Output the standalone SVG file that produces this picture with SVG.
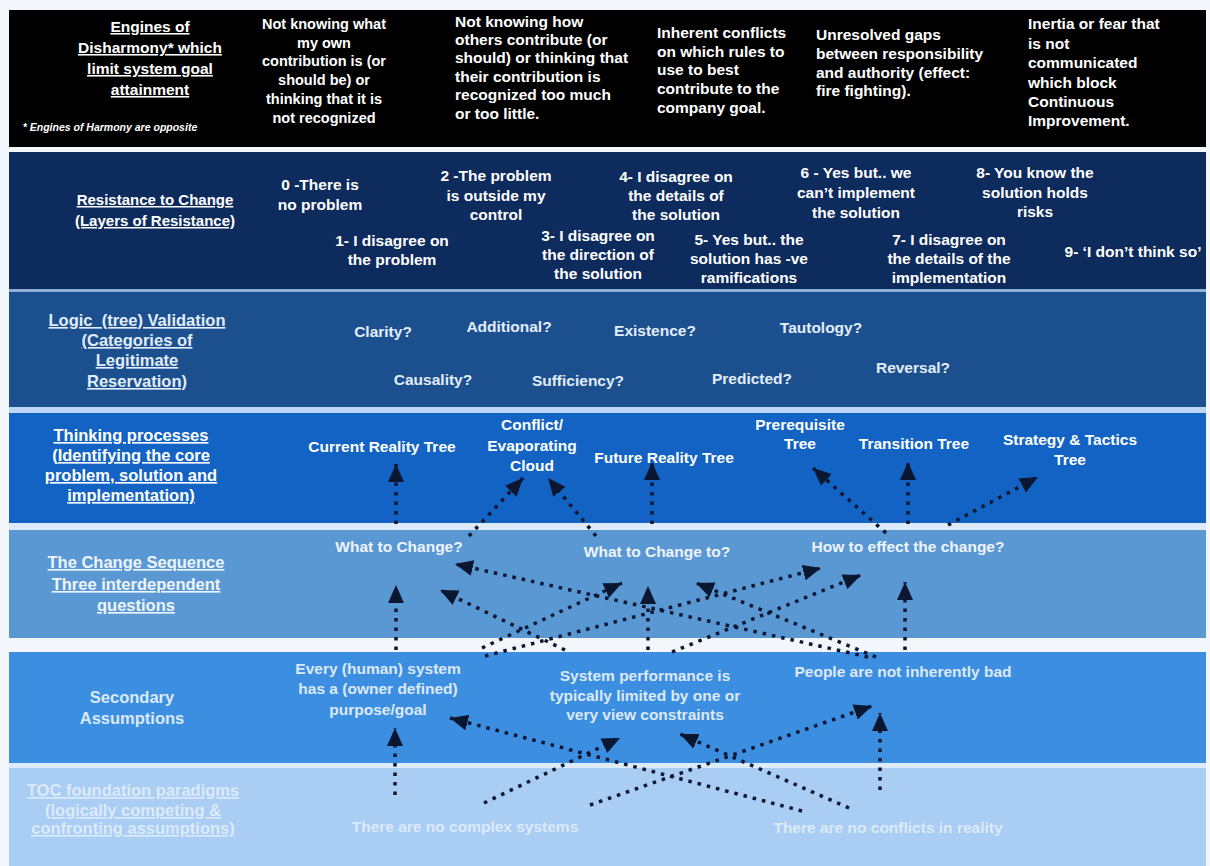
<svg xmlns="http://www.w3.org/2000/svg" width="1210" height="866" viewBox="0 0 1210 866">
<defs>
<style>
text{font-family:"Liberation Sans",Arial,Helvetica,sans-serif;font-weight:bold;font-size:15.5px;fill:#ffffff}
.c{text-anchor:middle}
.t{font-size:16.5px;text-decoration:underline}
.t1{font-size:15.5px;text-decoration:underline}
.t2{font-size:15px;text-decoration:underline}
.s13{font-size:14.5px}
.fn{font-size:10.5px;font-style:italic}
.l3{fill:#e2edfb}
.l5{fill:#eef4fc}
.l6{fill:#dce9f9}
.l7{fill:#dcebfb}
.dl{fill:none;stroke:#0b1631;stroke-width:3.5;stroke-dasharray:3.5 6;marker-end:url(#ah)}
</style>
<marker id="ah" viewBox="0 0 18 16" refX="18" refY="8" markerWidth="18" markerHeight="16" markerUnits="userSpaceOnUse" orient="auto">
<path d="M0,0 L18,8 L0,16 z" fill="#0b1631"/>
</marker>
</defs>
<rect x="0" y="0" width="1210" height="866" fill="#f3f6fa"/>
<g id="bands">
<rect x="9" y="10" width="1197" height="137" fill="#000000"/>
<rect x="9" y="289" width="1197" height="3" fill="#8fb0d8"/>
<rect x="9" y="152" width="1197" height="137" fill="#0e2b5d"/>
<rect x="9" y="407" width="1197" height="6" fill="#bcd6f3"/>
<rect x="9" y="292" width="1197" height="115" fill="#1b4f8d"/>
<rect x="9" y="413" width="1197" height="110" fill="#1263c4"/>
<rect x="9" y="523" width="1197" height="7" fill="#dfeaf8"/>
<rect x="9" y="530" width="1197" height="108" fill="#5a98d4"/>
<rect x="9" y="652" width="1197" height="111" fill="#3c8ee1"/>
<rect x="9" y="763" width="1197" height="5" fill="#dcecfc"/>
<rect x="9" y="768" width="1197" height="98" fill="#a9cdf3"/>
</g>
<g id="engines">
<text class="c t1" x="150" y="32">Engines of</text>
<text class="c t1" x="150" y="53">Disharmony* which</text>
<text class="c t1" x="150" y="74">limit system goal</text>
<text class="c t1" x="150" y="95">attainment</text>
<text class="c fn" x="110" y="131">* Engines of Harmony are opposite</text>
</g>
<g id="eng1">
<text class="c s13" x="324" y="29">Not knowing what</text>
<text class="c s13" x="324" y="48">my own</text>
<text class="c s13" x="324" y="66">contribution is (or</text>
<text class="c s13" x="324" y="85">should be) or</text>
<text class="c s13" x="324" y="104">thinking that it is</text>
<text class="c s13" x="324" y="123">not recognized</text>
</g>
<g id="eng2">
<text x="455" y="27">Not knowing how</text>
<text x="455" y="45">others contribute (or</text>
<text x="455" y="63">should) or thinking that</text>
<text x="455" y="82">their contribution is</text>
<text x="455" y="100">recognized too much</text>
<text x="455" y="119">or too little.</text>
</g>
<g id="eng3">
<text x="657" y="38">Inherent conflicts</text>
<text x="657" y="57">on which rules to</text>
<text x="657" y="75">use to best</text>
<text x="657" y="94">contribute to the</text>
<text x="657" y="113">company goal.</text>
</g>
<g id="eng4">
<text x="816" y="40">Unresolved gaps</text>
<text x="816" y="59">between responsibility</text>
<text x="816" y="78">and authority (effect:</text>
<text x="816" y="96">fire fighting).</text>
</g>
<g id="eng5">
<text x="1028" y="29">Inertia or fear that</text>
<text x="1028" y="49">is not</text>
<text x="1028" y="68">communicated</text>
<text x="1028" y="88">which block</text>
<text x="1028" y="107">Continuous</text>
<text x="1028" y="126">Improvement.</text>
</g>
<g id="resistance">
<text class="c t2" x="155" y="205">Resistance to Change</text>
<text class="c t2" x="155" y="226">(Layers of Resistance)</text>
</g>
<g id="r0"><text class="c" x="320" y="190">0 -There is</text><text class="c" x="320" y="210">no problem</text></g>
<g id="r1"><text class="c" x="392" y="246">1- I disagree on</text><text class="c" x="392" y="265">the problem</text></g>
<g id="r2"><text class="c" x="496" y="181">2 -The problem</text><text class="c" x="496" y="201">is outside my</text><text class="c" x="496" y="220">control</text></g>
<g id="r3"><text class="c" x="598" y="241">3- I disagree on</text><text class="c" x="598" y="260">the direction of</text><text class="c" x="598" y="279">the solution</text></g>
<g id="r4"><text class="c" x="676" y="182">4- I disagree on</text><text class="c" x="676" y="201">the details of</text><text class="c" x="676" y="220">the solution</text></g>
<g id="r5"><text class="c" x="749" y="245">5- Yes but.. the</text><text class="c" x="749" y="264">solution has -ve</text><text class="c" x="749" y="283">ramifications</text></g>
<g id="r6"><text class="c" x="856" y="178">6 - Yes but.. we</text><text class="c" x="856" y="198">can’t implement</text><text class="c" x="856" y="218">the solution</text></g>
<g id="r7"><text class="c" x="949" y="245">7- I disagree on</text><text class="c" x="949" y="264">the details of the</text><text class="c" x="949" y="283">implementation</text></g>
<g id="r8"><text class="c" x="1035" y="178">8- You know the</text><text class="c" x="1035" y="198">solution holds</text><text class="c" x="1035" y="217">risks</text></g>
<g id="r9"><text class="c" x="1133" y="257">9- ‘I don’t think so’</text></g>
<g id="logic">
<text class="c t l3" x="137" y="326" style="white-space:pre">Logic  (tree) Validation</text>
<text class="c t l3" x="137" y="346">(Categories of</text>
<text class="c t l3" x="137" y="366">Legitimate</text>
<text class="c t l3" x="137" y="387">Reservation)</text>
</g>
<g id="clr"><text class="c l3" x="383" y="337">Clarity?</text></g>
<g id="add"><text class="c l3" x="509" y="332">Additional?</text></g>
<g id="exi"><text class="c l3" x="655" y="336">Existence?</text></g>
<g id="tau"><text class="c l3" x="821" y="333">Tautology?</text></g>
<g id="cau"><text class="c l3" x="433" y="385">Causality?</text></g>
<g id="suf"><text class="c l3" x="578" y="386">Sufficiency?</text></g>
<g id="pre"><text class="c l3" x="752" y="384">Predicted?</text></g>
<g id="rev"><text class="c l3" x="913" y="373">Reversal?</text></g>
<g id="thinking">
<text class="c t" x="131" y="441">Thinking processes</text>
<text class="c t" x="131" y="461">(Identifying the core</text>
<text class="c t" x="131" y="481">problem, solution and</text>
<text class="c t" x="131" y="501">implementation)</text>
</g>
<g id="crt"><text class="c" x="382" y="452">Current Reality Tree</text></g>
<g id="cloud"><text class="c" x="532" y="430">Conflict/</text><text class="c" x="532" y="451">Evaporating</text><text class="c" x="532" y="471">Cloud</text></g>
<g id="frt"><text class="c" x="664" y="463">Future Reality Tree</text></g>
<g id="prt"><text class="c" x="800" y="430">Prerequisite</text><text class="c" x="800" y="449">Tree</text></g>
<g id="tt"><text class="c" x="914" y="449">Transition Tree</text></g>
<g id="st"><text class="c" x="1070" y="445">Strategy &amp; Tactics</text><text class="c" x="1070" y="465">Tree</text></g>
<g id="change">
<text class="c t l5" x="136" y="568">The Change Sequence</text>
<text class="c t l5" x="136" y="590">Three interdependent</text>
<text class="c t l5" x="136" y="611">questions</text>
</g>
<g id="q1"><text class="c l5" x="399" y="552">What to Change?</text></g>
<g id="q2"><text class="c l5" x="657" y="557">What to Change to?</text></g>
<g id="q3"><text class="c l5" x="908" y="552">How to effect the change?</text></g>
<g id="secondary">
<text class="c l6" x="132" y="703" style="font-size:16.5px">Secondary</text>
<text class="c l6" x="132" y="724" style="font-size:16.5px">Assumptions</text>
</g>
<g id="s1"><text class="c l6" x="378" y="674">Every (human) system</text><text class="c l6" x="378" y="694">has a (owner defined)</text><text class="c l6" x="378" y="715">purpose/goal</text></g>
<g id="s2"><text class="c l6" x="645" y="681">System performance is</text><text class="c l6" x="645" y="701">typically limited by one or</text><text class="c l6" x="645" y="720">very view constraints</text></g>
<g id="s3"><text class="c l6" x="903" y="677">People are not inherently bad</text></g>
<g id="toc">
<text class="c t l7" x="133" y="796">TOC foundation paradigms</text>
<text class="c t l7" x="133" y="816">(logically competing &amp;</text>
<text class="c t l7" x="133" y="834">confronting assumptions)</text>
</g>
<g id="p1"><text class="c l7" x="465" y="832">There are no complex systems</text></g>
<g id="p2"><text class="c l7" x="888" y="833">There are no conflicts in reality</text></g>
<g id="connectors">
<path class="dl" d="M396,524 L396,464"/>
<path class="dl" d="M469,536 L523,478"/>
<path class="dl" d="M596,536 L548,478"/>
<path class="dl" d="M652,524 L652,462"/>
<path class="dl" d="M886,533 L813,468"/>
<path class="dl" d="M908,524 L908,462"/>
<path class="dl" d="M948,525 L1038,477"/>
<path class="dl" d="M396,650 L396,585"/>
<path class="dl" d="M482,648 L622,583"/>
<path class="dl" d="M485,656 L821,568"/>
<path class="dl" d="M565,650 L440,590"/>
<path class="dl" d="M648,650 L648,586"/>
<path class="dl" d="M672,652 L861,575"/>
<path class="dl" d="M868,657 L455,564"/>
<path class="dl" d="M876,657 L696,583"/>
<path class="dl" d="M905,650 L905,582"/>
<path class="dl" d="M395,795 L395,728"/>
<path class="dl" d="M484,803 L620,738"/>
<path class="dl" d="M590,805 L872,706"/>
<path class="dl" d="M802,811 L450,718"/>
<path class="dl" d="M849,808 L680,734"/>
<path class="dl" d="M880,790 L880,713"/>
</g>
</svg>
